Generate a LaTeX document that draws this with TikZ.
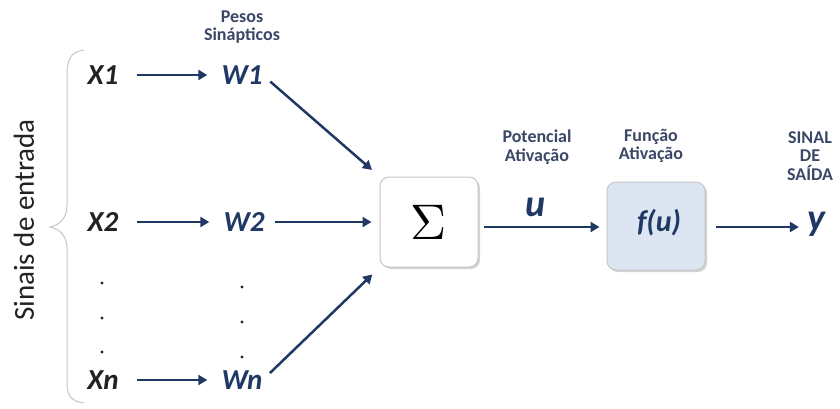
\documentclass[tikz,border=0pt]{standalone}
\usepackage{fontspec}
\usepackage{graphicx}
\setmainfont{Carlito}
\usetikzlibrary{arrows.meta,shadows}
\definecolor{navy}{HTML}{1F3864}
\definecolor{capc}{HTML}{3B4766}
\definecolor{inkc}{HTML}{222222}
\definecolor{fbox}{HTML}{DCE6F2}
\begin{document}
\begin{tikzpicture}[x=1pt,y=-1pt,
  xlab/.style={font=\fontsize{29}{29}\selectfont\bfseries\itshape, text=inkc, inner sep=0pt},
  wlab/.style={font=\fontsize{29}{29}\selectfont\bfseries\itshape, text=navy, inner sep=0pt},
  bigvar/.style={font=\fontsize{38}{38}\selectfont\bfseries\itshape, text=navy, inner sep=0pt},
  caption/.style={font=\fontsize{18}{18.5}\selectfont\bfseries, text=capc, align=center, inner sep=0pt},
  arr/.style={draw=navy, line width=2.5pt, -{Triangle[length=9pt,width=10pt]}},
  unit/.style={rounded corners=9pt, draw=gray!45, line width=1pt,
    drop shadow={opacity=0.35, shadow xshift=2pt, shadow yshift=-2pt}},
  dotc/.style={fill=inkc, draw=none}
]
\useasboundingbox (0,0) rectangle (840,408);

% input label and brace
\node[rotate=90, font=\fontsize{29}{29}\selectfont, text=inkc] (sinais) at (24,220) {Sinais de entrada};
\draw[gray!45, line width=1pt] (84,50) .. controls (70,52) and (67,60) .. (67,75)
  -- (67,205) .. controls (67,218) and (60,225) .. (50,227)
  .. controls (60,229) and (67,236) .. (67,249)
  -- (67,382) .. controls (67,395) and (70,401) .. (84,403);

% inputs
\node[xlab] (X1) at (103,75) {X1};
\node[xlab] (X2) at (103,222) {X2};
\node[xlab] (Xn) at (103,380) {Xn};

% weights
\node[caption] (pesos) at (242,27) {Pesos\\Sinápticos};
\node[wlab] (W1) at (242,75) {W1};
\node[wlab] (W2) at (244,222) {W2};
\node[wlab] (Wn) at (242,380) {Wn};

% ellipsis dots
\foreach \i/\yy in {1/283,2/318,3/352}{
  \fill[dotc] (102,\yy) circle (1.6pt) coordinate (xd\i);
}
\foreach \i/\yy in {1/287,2/322,3/357}{
  \fill[dotc] (242,\yy) circle (1.6pt) coordinate (wd\i);
}

\draw[arr, shorten <=18pt, shorten >=14pt] (X1.east) -- (W1.west);
\draw[arr, shorten <=18pt, shorten >=14pt] (X2.east) -- (W2.west);
\draw[arr, shorten <=18pt, shorten >=14pt] (Xn.east) -- (Wn.west);

% summation unit
\node[unit, fill=white, minimum width=98pt, minimum height=90pt] (sig) at (429,222)
  {\scalebox{5}{$\Sigma$}};

\draw[arr, shorten <=10pt, shorten >=10pt] (W1.east) -- (sig.north west);
\draw[arr, shorten <=10pt, shorten >=8pt] (W2.east) -- (sig.west);
\draw[arr, shorten <=10pt, shorten >=10pt] (Wn.east) -- (sig.south west);

% activation potential
\node[caption] (pot) at (537,147) {Potencial\\Ativação};
\node[bigvar] (u) at (536,207) {u};

% activation function
\node[unit, fill=fbox, minimum width=98pt, minimum height=88pt] (f) at (656,226) {};
\node[font=\fontsize{30}{30}\selectfont\bfseries\itshape, text=navy, inner sep=0pt] (fu) at (659,223) {f(u)};
\node[caption] (func) at (651,146) {Função\\Ativação};

\draw[arr, shorten <=5pt, shorten >=7pt] (sig.east |- 0,227) -- (f.west |- 0,227);

% output
\node[caption] (saida) at (810,156) {SINAL\\DE\\SAÍDA};
\node[bigvar] (y) at (816,224) {y};
\draw[arr, shorten <=10pt, shorten >=8pt] (f.east |- 0,227) -- (y.west |- 0,227);

\end{tikzpicture}
\end{document}
